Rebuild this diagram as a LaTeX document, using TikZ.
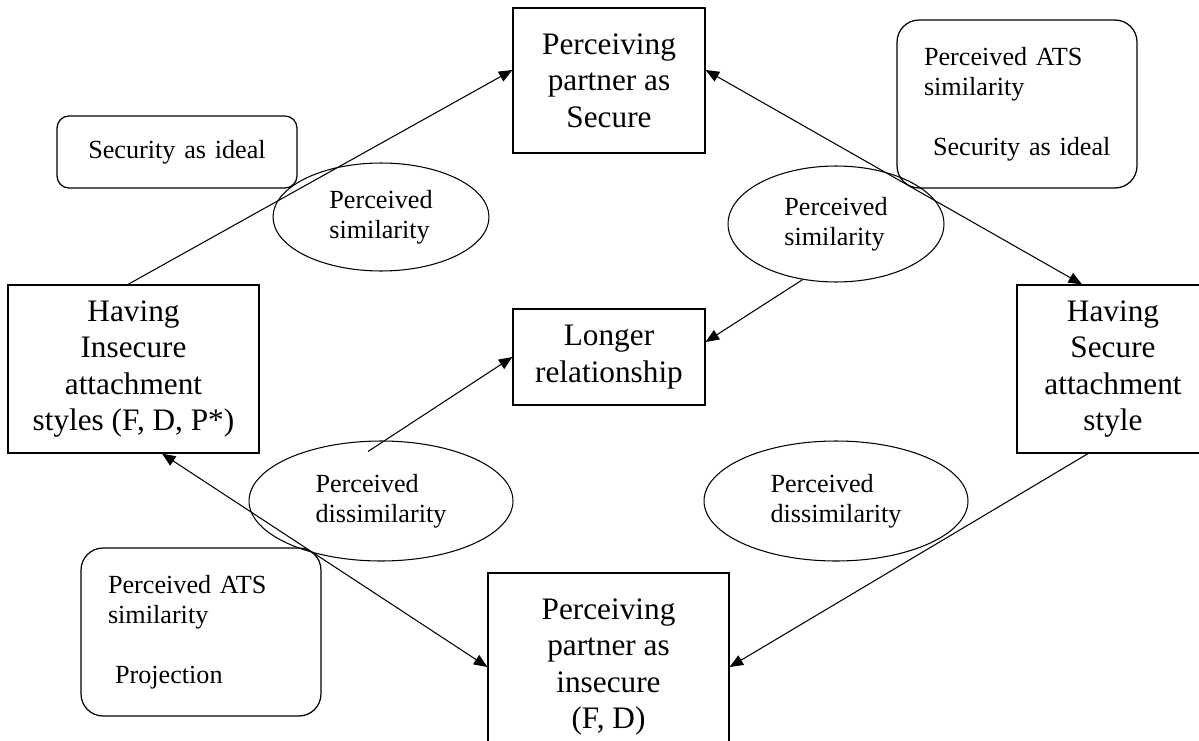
\documentclass[tikz,border=0pt]{standalone}
\usepackage{fontspec}
\setmainfont{Liberation Serif}
\usetikzlibrary{shapes.geometric,arrows.meta}

\newcommand\bigtxt{\fontsize{17.8}{20.8}\selectfont}
\newcommand\smalltxt{\fontsize{14.9}{17.1}\selectfont}

\begin{document}
\begin{tikzpicture}[x=0.02cm,y=-0.02cm,
  box/.style={draw,line width=0.7pt,align=center,inner sep=0pt,minimum width=3.84cm,font=\bigtxt},
  note/.style={draw,line width=0.7pt,rounded corners=0.44cm,minimum width=4.8cm,minimum height=3.36cm,inner xsep=0.54cm,inner ysep=0pt,text width=3.72cm,align=left,font=\smalltxt},
  oval/.style={draw,ellipse,line width=0.6pt,inner sep=0pt,align=left,font=\smalltxt},
  link/.style={line width=0.6pt,-{Triangle[length=0.27cm,width=0.22cm]}},
  link2/.style={link,{Triangle[length=0.27cm,width=0.22cm]}-{Triangle[length=0.27cm,width=0.22cm]}}]

\clip (0,0) rectangle (1199,740);

% boxes
\node[box,minimum height=2.9cm] (psec) at (609,80.5) {Perceiving\\partner as\\Secure};
\node[box,minimum height=1.92cm] (longer) at (609,357) {Longer\\relationship};
\node[box,minimum width=5.02cm,minimum height=3.36cm] (insec) at (133.5,369) {Having\\Insecure\\attachment\\styles (F, D, P*)};
\node[box,minimum height=3.36cm] (sec) at (1113,369) {Having\\Secure\\attachment\\style};
\node[box,minimum width=4.82cm,minimum height=3.76cm] (pinsec) at (608.5,667) {Perceiving\\partner as\\insecure\\(F, D)};

% notes
\node[note,minimum height=1.44cm,rounded corners=0.24cm,align=center] (ideal) at (177,152) {Security as ideal};
\node[note] (atsA) at (1017,104) {Perceived ATS\\similarity\\[17pt]\mbox{\hspace{0.18cm}Security as ideal}};
\node[note] (atsB) at (201,632) {Perceived ATS\\similarity\\[17pt]\mbox{\hspace{0.14cm}Projection}};

% ovals
\node[oval,minimum width=4.32cm,minimum height=2.16cm] (lsim) at (381,217) {Perceived\\similarity};
\node[oval,minimum width=4.32cm,minimum height=2.32cm] (rsim) at (836,224) {Perceived\\similarity};
\node[oval,minimum width=5.28cm,minimum height=2.4cm] (ldis) at (381,501) {Perceived\\dissimilarity};
\node[oval,minimum width=5.28cm,minimum height=2.4cm] (rdis) at (836,501) {Perceived\\dissimilarity};

% links
\draw[link] ([xshift=-0.11cm]insec.north) -- ([yshift=0.21cm]psec.west);
\draw[link2] ([yshift=0.21cm]psec.east) -- ([xshift=-0.62cm]sec.north);
\draw[link2] ([xshift=0.57cm]insec.south) -- (pinsec.west);
\draw[link] ([xshift=-0.5cm]sec.south) -- (pinsec.east);
\draw[link] (rsim.239) -- ([yshift=0.3cm]longer.east);
\draw[link] ([xshift=-0.26cm,yshift=-0.22cm]ldis.north) -- (longer.west);
\end{tikzpicture}
\end{document}
